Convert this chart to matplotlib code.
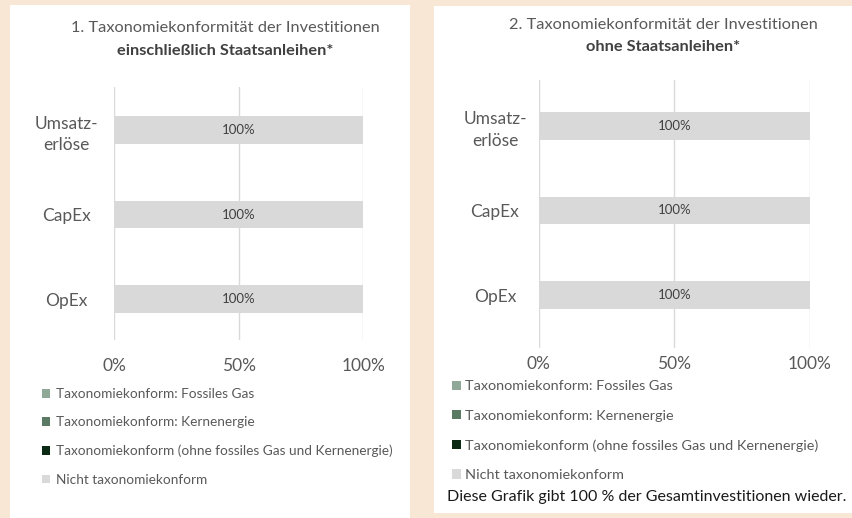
import matplotlib
matplotlib.use("Agg")
import matplotlib.pyplot as plt
from matplotlib.patches import Rectangle
import numpy as np

plt.rcParams['font.family'] = ['Lato', 'DejaVu Sans']

# ---------------- data ----------------
categories = ["Umsatz-\nerlöse", "CapEx", "OpEx"]
series_names = [
    "Taxonomiekonform: Fossiles Gas",
    "Taxonomiekonform: Kernenergie",
    "Taxonomiekonform (ohne fossiles Gas und Kernenergie)",
    "Nicht taxonomiekonform",
]
series_colors = ["#8fa897", "#5b7a63", "#0b2a13", "#d9d9d9"]
# values in % for chart 1 (incl. sovereign bonds)
vals_incl = [
    [0, 0, 0],      # Fossiles Gas
    [0, 0, 0],      # Kernenergie
    [0, 0, 0],      # Taxonomiekonform ohne Gas/Kern
    [100, 100, 100] # Nicht taxonomiekonform
]
# values in % for chart 2 (excl. sovereign bonds)
vals_excl = [
    [0, 0, 0],
    [0, 0, 0],
    [0, 0, 0],
    [100, 100, 100],
]
xticks = [0, 50, 100]
xtick_labels = ["0%", "50%", "100%"]
title1_a = "1. Taxonomiekonformität der Investitionen"
title1_b = "einschließlich Staatsanleihen*"
title2_a = "2. Taxonomiekonformität der Investitionen"
title2_b = "ohne Staatsanleihen*"
footer = "Diese Grafik gibt 100 % der Gesamtinvestitionen wieder."

W, H = 852, 518
fig = plt.figure(figsize=(W / 100, H / 100), dpi=100)
fig.patch.set_facecolor("#f9e7d6")

def px(x, y):
    return x / W, 1 - y / H

# white panels
fig.patches.append(Rectangle((10 / W, 0), 400 / W, 1 - 5 / H, transform=fig.transFigure,
                             facecolor="white", edgecolor="none", zorder=-5))
fig.patches.append(Rectangle((434 / W, 1 - 513 / H), 418 / W, 507 / H, transform=fig.transFigure,
                             facecolor="white", edgecolor="none", zorder=-5))

def make_axes(x0, x1, ytop, ybot):
    return fig.add_axes([x0 / W, 1 - ybot / H, (x1 - x0) / W, (ybot - ytop) / H])

def draw(ax, vals, ylim, label_pad, xpad, fs_tick):
    y = np.arange(len(categories))
    left = np.zeros(len(categories))
    containers = []
    for name, col, v in zip(series_names, series_colors, vals):
        v = np.array(v, dtype=float)
        c = ax.barh(y, v, left=left, height=0.33, color=col, label=name, zorder=2)
        containers.append(c)
        for yi, (l, vv) in enumerate(zip(left, v)):
            if vv > 0:
                ax.text(l + vv / 2, yi, f"{vv:.0f}%", ha="center", va="center",
                        fontsize=9.5, color="#404040", zorder=3)
        left = left + v
    ax.set_xlim(0, 100)
    ax.set_ylim(*ylim)
    ax.set_xticks(xticks)
    ax.set_xticklabels(xtick_labels)
    ax.set_yticks(y)
    ax.set_yticklabels(categories, ha="center", multialignment="center", linespacing=1.45)
    ax.tick_params(axis="y", length=0, pad=label_pad, labelsize=fs_tick, labelcolor="#595959")
    ax.tick_params(axis="x", length=0, pad=xpad, labelsize=fs_tick, labelcolor="#595959")
    ax.grid(axis="x", color="#d9d9d9", linewidth=1, zorder=1)
    ax.set_axisbelow(True)
    for s in ax.spines.values():
        s.set_visible(False)
    ax.set_facecolor("none")
    return containers

ax1 = make_axes(114.3, 363.3, 87, 340)
c1 = draw(ax1, vals_incl, (2.485, -0.509), 34.5, 13.3, 12.5)
ax2 = make_axes(538.7, 810, 80, 348)
c2 = draw(ax2, vals_excl, (2.627, -0.544), 31.5, 6.0, 12.5)

# titles
fig.text(*px(225, 28), title1_a, ha="center", va="center", fontsize=11.8, color="#595959")
fig.text(*px(225, 51), title1_b, ha="center", va="center", fontsize=11.8, color="#404040", fontweight="bold")
fig.text(*px(663, 25), title2_a, ha="center", va="center", fontsize=11.8, color="#595959")
fig.text(*px(663, 47), title2_b, ha="center", va="center", fontsize=11.8, color="#404040", fontweight="bold")

# legends
handles1, labels1 = ax1.get_legend_handles_labels()
fig.legend(handles1, labels1, loc="upper left", bbox_to_anchor=px(42, 388),
           bbox_transform=fig.transFigure, frameon=False, borderpad=0, borderaxespad=0,
           fontsize=9.85, labelcolor="#595959", handlelength=0.6, handleheight=0.6,
           handletextpad=0.4, labelspacing=1.2)
handles2, labels2 = ax2.get_legend_handles_labels()
fig.legend(handles2, labels2, loc="upper left", bbox_to_anchor=px(452, 380.5),
           bbox_transform=fig.transFigure, frameon=False, borderpad=0, borderaxespad=0,
           fontsize=10.4, labelcolor="#595959", handlelength=0.6, handleheight=0.6,
           handletextpad=0.3, labelspacing=1.2)

fig.text(*px(447, 497), footer, ha="left", va="center", fontsize=11.5, color="#1a1a1a")

fig.savefig("out.png", dpi=100, facecolor=fig.get_facecolor())
